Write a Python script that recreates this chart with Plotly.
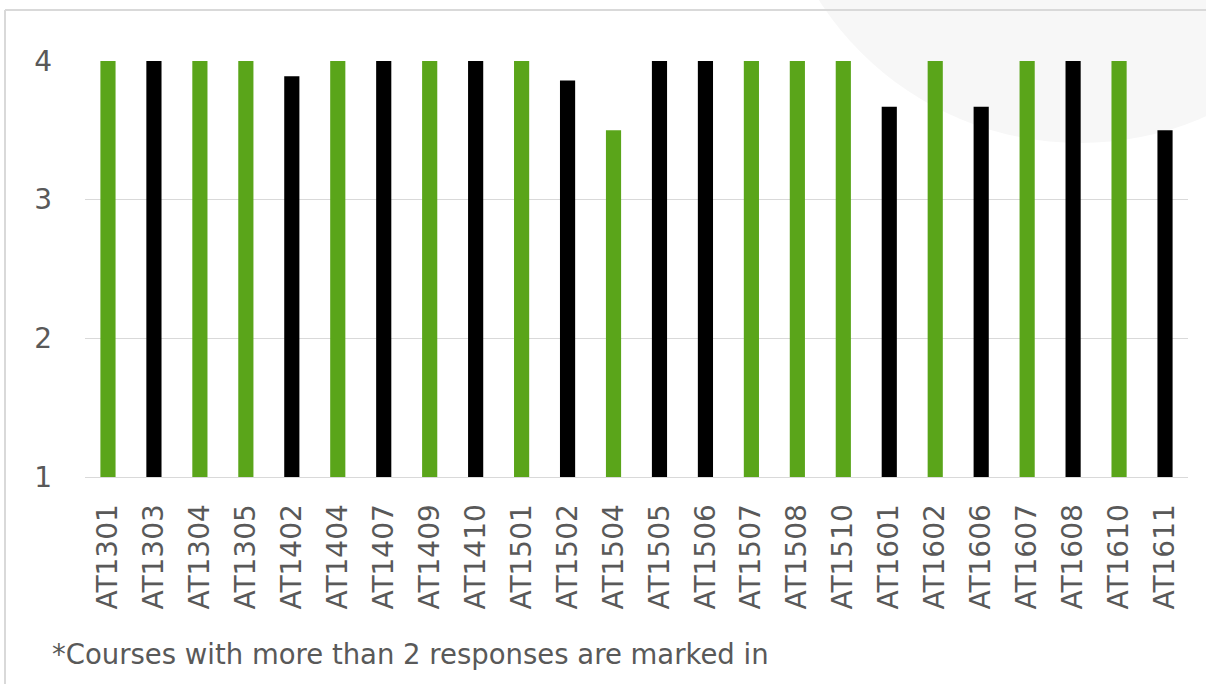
import plotly.graph_objects as go

courses = ["AT1301", "AT1303", "AT1304", "AT1305", "AT1402", "AT1404", "AT1407", "AT1409",
           "AT1410", "AT1501", "AT1502", "AT1504", "AT1505", "AT1506", "AT1507", "AT1508",
           "AT1510", "AT1601", "AT1602", "AT1606", "AT1607", "AT1608", "AT1610", "AT1611"]
scores = [4, 4, 4, 4, 3.89, 4, 4, 4, 4, 4, 3.86, 3.5, 4, 4, 4, 4, 4, 3.67, 4, 3.67, 4, 4, 4, 3.5]
many_responses = [True, False, True, True, False, True, False, True, False, True, False, True,
                  False, False, True, True, True, False, True, False, True, False, True, False]
y_ticks = [1, 2, 3, 4]
footnote = "*Courses with more than 2 responses are marked in"

GREEN = "#5AA51A"
BLACK = "#000000"
colors = [GREEN if m else BLACK for m in many_responses]

W, H = 1206, 684
L, R, T, B = 85, 18, 61, 207
pw, ph = W - L - R, H - T - B

def px_x(p):
    return (p - L) / pw

def px_y(p):
    return (H - B - p) / ph

fig = go.Figure()
fig.add_trace(go.Bar(
    x=courses,
    y=[s - 1 for s in scores],
    base=1,
    marker=dict(color=colors, line=dict(width=0)),
    width=0.33,
    hoverinfo="x+y",
))

shapes = [
    dict(type="circle", xref="paper", yref="paper", layer="below",
         x0=px_x(770), x1=px_x(1390), y0=px_y(143), y1=px_y(-477),
         fillcolor="#F7F7F7", line=dict(width=0)),
    dict(type="line", xref="paper", yref="paper", layer="below",
         x0=px_x(5), x1=px_x(1210), y0=px_y(10), y1=px_y(10),
         line=dict(color="#D9D9D9", width=2)),
    dict(type="line", xref="paper", yref="paper", layer="below",
         x0=px_x(5), x1=px_x(5), y0=px_y(10), y1=px_y(690),
         line=dict(color="#D9D9D9", width=2)),
]

TICKFONT = "DejaVu Sans"

fig.update_layout(
    width=W, height=H,
    autosize=False,
    margin=dict(l=L, r=R, t=T, b=B, pad=0),
    paper_bgcolor="white",
    plot_bgcolor="rgba(0,0,0,0)",
    showlegend=False,
    bargap=0.67,
    font=dict(family=TICKFONT, color="#595959"),
    shapes=shapes,
    xaxis=dict(
        type="category",
        tickangle=-90,
        tickfont=dict(size=28, color="#595959", family=TICKFONT),
        showgrid=False,
        showline=True, linecolor="#D9D9D9", linewidth=1,
        ticks="",
        ticklabelstandoff=15,
        range=[-0.5, len(courses) - 0.5],
        automargin=False,
    ),
    yaxis=dict(
        range=[1, 4],
        tickvals=y_ticks,
        tickfont=dict(size=28, color="#595959", family=TICKFONT),
        showgrid=True, gridcolor="#D9D9D9", gridwidth=1,
        zeroline=False, showline=False,
        ticks="",
        ticklabelstandoff=32,
        automargin=False,
    ),
    annotations=[dict(
        text=footnote, xref="paper", yref="paper",
        x=px_x(50), y=px_y(672), xanchor="left", yanchor="bottom",
        showarrow=False, font=dict(size=27.5, color="#595959", family=TICKFONT),
    )],
)

fig.write_html(
    "out.html",
    config={"displayModeBar": False, "responsive": False},
    post_script="document.body.style.margin='0';document.body.style.overflow='hidden';",
)
